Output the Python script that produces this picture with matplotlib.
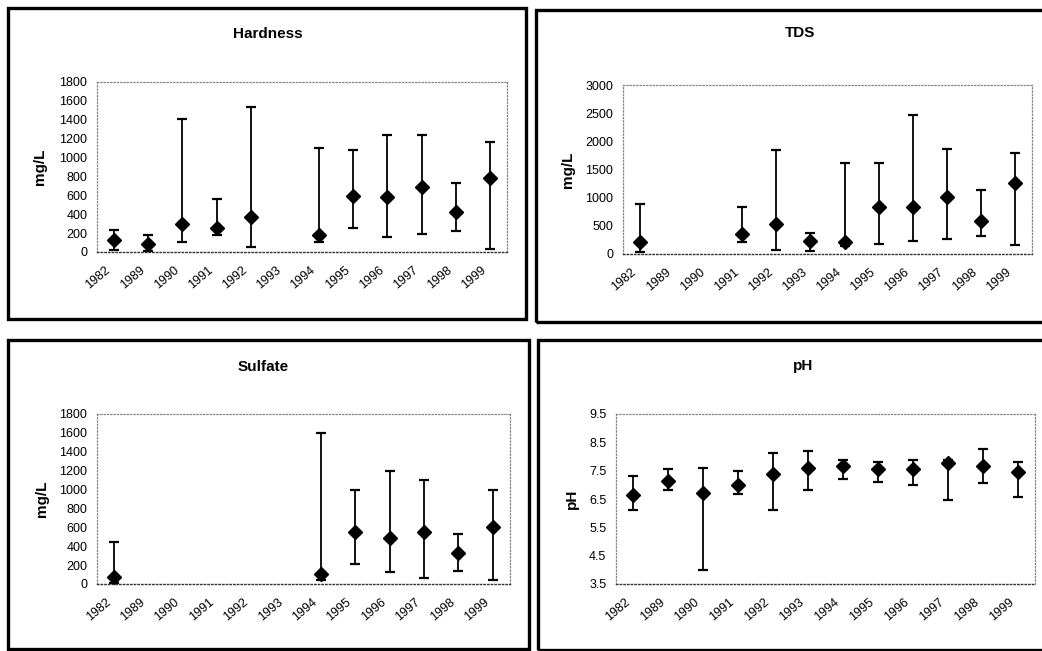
import numpy as np
import matplotlib
matplotlib.use('Agg')
import matplotlib.pyplot as plt
from matplotlib.patches import Rectangle

plt.rcParams['font.family'] = ['Liberation Sans', 'DejaVu Sans']

years = ['1982', '1989', '1990', '1991', '1992', '1993',
         '1994', '1995', '1996', '1997', '1998', '1999']
nan = np.nan

hard_mean = [131, 89, 295, 252, 373, nan, 177, 589, 579, 689, 419, 781]
hard_high = [231, 178, 1410, 565, 1535, nan, 1100, 1075, 1240, 1240, 730, 1165]
hard_low = [18, 14, 110, 185, 57, nan, 103, 256, 160, 195, 220, 28]

tds_mean = [213, nan, nan, 354, 526, 224, 218, 827, 827, 1016, 579, 1258]
tds_high = [880, nan, nan, 840, 1850, 378, 1620, 1620, 2470, 1870, 1140, 1800]
tds_low = [30, nan, nan, 218, 71, 59, 136, 177, 224, 266, 313, 160]

sulf_mean = [71, nan, nan, nan, nan, nan, 106, 547, 484, 547, 332, 607]
sulf_high = [440, nan, nan, nan, nan, nan, 1600, 1000, 1200, 1100, 525, 1000]
sulf_low = [7, nan, nan, nan, nan, nan, 39, 212, 127, 64, 141, 39]

ph_mean = [6.64, 7.15, 6.72, 6.98, 7.38, 7.58, 7.68, 7.57, 7.57, 7.77, 7.65, 7.46]
ph_high = [7.31, 7.56, 7.58, 7.50, 8.12, 8.21, 7.89, 7.81, 7.89, 7.89, 8.28, 7.79]
ph_low = [6.12, 6.81, 4.01, 6.69, 6.12, 6.81, 7.19, 7.09, 6.98, 6.48, 7.08, 6.57]

W, H = 1042, 651
fig = plt.figure(figsize=(W / 100, H / 100), dpi=100)


def px_rect(l, t, r, b):
    return [l / W, 1 - b / H, (r - l) / W, (b - t) / H]


def panel(box, frame, title, title_xy, ylab, ylab_x, mean, high, low, ylim, yticks, fmt):
    # outer frame
    l, t, r, b = frame
    fig.patches.append(Rectangle((l / W, 1 - b / H), (r - l) / W, (b - t) / H,
                                 transform=fig.transFigure, fill=False,
                                 edgecolor='black', linewidth=2.4))
    fig.text(title_xy[0] / W, 1 - title_xy[1] / H, title, ha='center', va='center',
             fontsize=11, fontweight='bold')
    ax = fig.add_axes(px_rect(*box))
    mean = np.array(mean, dtype=float)
    high = np.array(high, dtype=float)
    low = np.array(low, dtype=float)
    x = np.arange(len(years))
    ax.errorbar(x, mean, yerr=[mean - low, high - mean], fmt='D', color='black',
                ms=7, capsize=3.5, elinewidth=1.3, capthick=1.6)
    ax.set_xlim(-0.5, len(years) - 0.5)
    ax.set_ylim(*ylim)
    ax.set_yticks(yticks)
    ax.set_yticklabels([fmt.format(v) for v in yticks])
    ax.set_xticks(x - 0.15)
    ax.set_xticklabels(years, rotation=40, ha='right', va='center', rotation_mode='anchor')
    ax.tick_params(axis='both', length=0, labelsize=9)
    ax.tick_params(axis='y', pad=7)
    ax.tick_params(axis='x', pad=12)
    for s in ['top', 'right', 'left']:
        ax.spines[s].set_linestyle(':')
        ax.spines[s].set_color('#888888')
        ax.spines[s].set_linewidth(0.9)
    ax.spines['bottom'].set_linestyle(':')
    ax.spines['bottom'].set_color('#333333')
    ax.spines['bottom'].set_linewidth(1.0)
    fig.text(ylab_x / W, 1 - (box[1] + box[3]) / 2 / H, ylab, rotation=90,
             ha='center', va='center', fontsize=11, fontweight='bold')
    return ax


panel((97, 82, 507, 252), (8, 8, 526, 319), 'Hardness', (268, 34), 'mg/L', 40,
      hard_mean, hard_high, hard_low, (0, 1800), range(0, 1801, 200), '{:d}')
panel((623, 85, 1032, 254), (536, 10, 1046, 322), 'TDS', (800, 33), 'mg/L', 568,
      tds_mean, tds_high, tds_low, (0, 3000), range(0, 3001, 500), '{:d}')
panel((97, 414, 510, 584), (8, 340, 529, 649), 'Sulfate', (263, 367), 'mg/L', 42,
      sulf_mean, sulf_high, sulf_low, (0, 1800), range(0, 1801, 200), '{:d}')
panel((616, 414, 1035, 584), (538, 340, 1046, 650), 'pH', (803, 366), 'pH', 572,
      ph_mean, ph_high, ph_low, (3.5, 9.5), [3.5, 4.5, 5.5, 6.5, 7.5, 8.5, 9.5], '{:.1f}')

fig.savefig('out.png', dpi=100)
